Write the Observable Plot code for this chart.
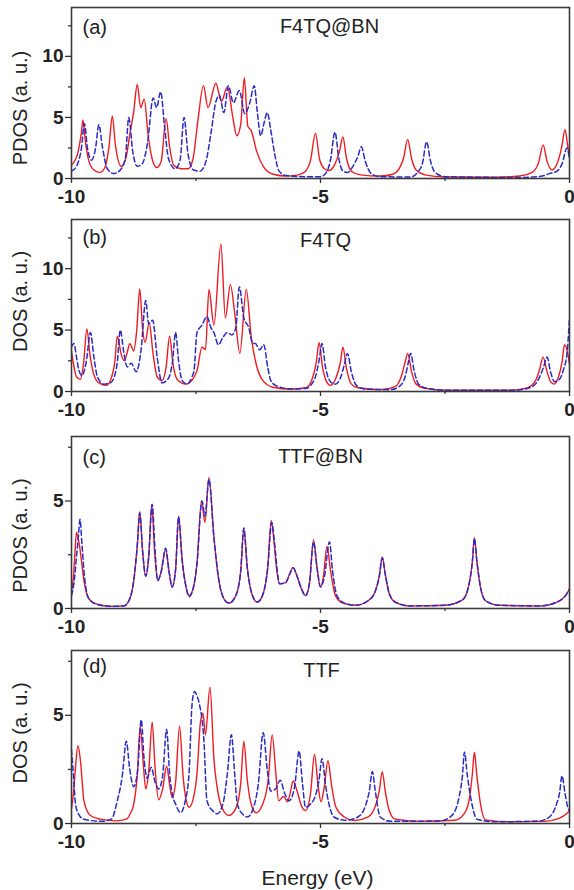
<!DOCTYPE html>
<html>
<head>
<meta charset="utf-8">
<script src="https://cdn.jsdelivr.net/npm/d3@7"></script>
<script src="https://cdn.jsdelivr.net/npm/@observablehq/plot@0.6"></script>
<style>
  body { margin: 0; background: #fff; }
  #chart { width: 574px; }
  #chart svg { display: block; }
</style>
</head>
<body>
<div id="chart"></div>
<script>
// ---- Data: [energy (eV), density of states] ----
const aRed = [[-10,1.1],[-9.88,2.0],[-9.8,3.8],[-9.77,4.8],[-9.72,3.0],[-9.65,1.4],[-9.55,0.7],[-9.43,0.5],[-9.33,0.9],[-9.25,2.5],[-9.18,5.1],[-9.12,2.8],[-9.0,1.0],[-8.9,1.8],[-8.83,3.6],[-8.75,5.5],[-8.68,7.7],[-8.61,5.8],[-8.54,6.5],[-8.46,3.5],[-8.38,1.6],[-8.29,0.9],[-8.2,1.4],[-8.1,4.9],[-8.03,2.6],[-7.95,1.1],[-7.8,0.8],[-7.66,0.8],[-7.56,1.6],[-7.46,4.8],[-7.35,7.6],[-7.26,5.8],[-7.1,7.8],[-6.99,6.3],[-6.87,7.5],[-6.76,5.0],[-6.68,3.5],[-6.6,4.5],[-6.53,8.25],[-6.46,4.3],[-6.39,3.9],[-6.28,2.2],[-6.15,1.0],[-5.95,0.35],[-5.7,0.2],[-5.45,0.3],[-5.3,0.6],[-5.2,1.5],[-5.1,3.7],[-5.02,1.6],[-4.92,0.8],[-4.83,0.65],[-4.72,1.1],[-4.62,2.2],[-4.55,3.4],[-4.48,1.7],[-4.38,0.6],[-4.2,0.3],[-3.8,0.2],[-3.55,0.35],[-3.42,0.8],[-3.33,1.7],[-3.25,3.2],[-3.17,1.6],[-3.08,0.7],[-2.9,0.3],[-2.5,0.12],[-1.5,0.1],[-1.0,0.2],[-0.75,0.5],[-0.62,1.3],[-0.53,2.75],[-0.45,1.4],[-0.35,0.7],[-0.25,1.2],[-0.16,2.5],[-0.09,4.0],[-0.04,2.8],[0,1.7]];
const aBlue = [[-10,0.6],[-9.9,1.0],[-9.8,2.5],[-9.74,4.5],[-9.68,2.5],[-9.6,1.5],[-9.52,2.4],[-9.45,4.4],[-9.38,2.6],[-9.28,0.8],[-9.15,0.4],[-9.02,0.7],[-8.92,1.6],[-8.85,5.0],[-8.77,2.2],[-8.68,1.0],[-8.58,1.2],[-8.47,3.0],[-8.36,6.6],[-8.29,5.8],[-8.21,7.1],[-8.13,4.2],[-8.05,1.6],[-7.92,0.8],[-7.82,1.5],[-7.74,5.0],[-7.66,2.0],[-7.55,0.7],[-7.42,0.6],[-7.3,1.4],[-7.2,3.7],[-7.1,6.3],[-7.03,6.8],[-6.94,5.4],[-6.85,7.6],[-6.75,6.2],[-6.63,7.2],[-6.52,5.3],[-6.42,6.2],[-6.33,7.6],[-6.27,5.5],[-6.2,3.5],[-6.13,4.6],[-6.07,5.4],[-6.0,4.0],[-5.92,2.0],[-5.83,0.6],[-5.7,0.25],[-5.3,0.15],[-5.0,0.15],[-4.9,0.4],[-4.8,1.5],[-4.71,3.8],[-4.63,1.6],[-4.55,0.6],[-4.45,0.5],[-4.35,1.0],[-4.25,1.8],[-4.18,2.6],[-4.1,1.4],[-3.98,0.4],[-3.8,0.15],[-3.2,0.12],[-3.05,0.5],[-2.95,1.3],[-2.87,3.0],[-2.79,1.4],[-2.7,0.5],[-2.5,0.15],[-1.0,0.08],[-0.55,0.2],[-0.4,0.4],[-0.25,0.6],[-0.15,1.2],[-0.05,2.5],[0,1.6]];

const bRed = [[-10,3.3],[-9.95,2.0],[-9.9,1.2],[-9.82,1.0],[-9.76,2.2],[-9.69,5.1],[-9.63,3.0],[-9.56,1.5],[-9.45,0.7],[-9.3,0.5],[-9.2,1.1],[-9.13,2.4],[-9.08,4.5],[-9.0,3.0],[-8.94,2.5],[-8.88,3.2],[-8.83,3.9],[-8.75,3.3],[-8.69,5.0],[-8.63,8.35],[-8.57,5.0],[-8.52,4.0],[-8.44,5.6],[-8.36,3.0],[-8.28,1.2],[-8.18,0.9],[-8.1,2.0],[-8.03,4.5],[-7.96,2.2],[-7.88,1.0],[-7.7,0.6],[-7.55,1.1],[-7.48,1.7],[-7.38,3.6],[-7.31,3.4],[-7.24,8.3],[-7.14,5.4],[-7.0,12.0],[-6.91,6.0],[-6.81,8.7],[-6.72,6.3],[-6.62,3.1],[-6.49,8.3],[-6.39,4.4],[-6.29,2.2],[-6.16,0.9],[-5.96,0.35],[-5.6,0.2],[-5.3,0.3],[-5.17,1.0],[-5.08,2.5],[-5.03,4.0],[-4.96,2.0],[-4.88,0.8],[-4.8,0.5],[-4.7,1.0],[-4.6,2.4],[-4.55,3.6],[-4.48,1.9],[-4.38,0.6],[-4.25,0.3],[-3.8,0.15],[-3.5,0.4],[-3.38,1.2],[-3.3,2.4],[-3.25,3.1],[-3.17,1.6],[-3.08,0.6],[-2.9,0.25],[-2.5,0.1],[-1.2,0.1],[-0.85,0.3],[-0.68,0.9],[-0.6,1.8],[-0.53,2.8],[-0.45,1.6],[-0.38,0.8],[-0.31,0.6],[-0.22,1.2],[-0.15,2.4],[-0.1,3.8],[-0.04,3.2],[0,2.2]];
const bBlue = [[-10,3.6],[-9.95,3.9],[-9.9,2.8],[-9.85,1.7],[-9.79,1.3],[-9.7,2.5],[-9.62,4.8],[-9.55,2.8],[-9.48,1.2],[-9.35,0.6],[-9.22,0.7],[-9.15,1.1],[-9.08,2.4],[-9.02,5.0],[-8.95,3.2],[-8.88,2.0],[-8.8,2.3],[-8.7,1.6],[-8.6,3.5],[-8.51,7.4],[-8.45,5.5],[-8.37,5.8],[-8.28,2.8],[-8.18,0.7],[-8.05,1.1],[-7.97,2.5],[-7.91,4.8],[-7.85,2.5],[-7.78,0.9],[-7.68,0.6],[-7.58,1.2],[-7.54,1.7],[-7.48,4.8],[-7.38,5.4],[-7.28,6.1],[-7.2,5.2],[-7.14,4.8],[-7.05,3.8],[-6.96,4.4],[-6.87,4.8],[-6.78,4.6],[-6.7,5.2],[-6.63,8.5],[-6.54,6.0],[-6.44,5.2],[-6.36,3.9],[-6.31,3.9],[-6.22,3.4],[-6.14,3.8],[-6.06,2.0],[-6.0,0.9],[-5.9,0.5],[-5.6,0.2],[-5.3,0.25],[-5.12,1.0],[-5.03,2.5],[-4.97,3.9],[-4.9,2.0],[-4.8,0.8],[-4.7,0.6],[-4.6,1.1],[-4.52,2.2],[-4.46,3.1],[-4.38,1.6],[-4.28,0.5],[-4.1,0.2],[-3.6,0.15],[-3.42,0.4],[-3.3,1.2],[-3.24,2.3],[-3.19,3.1],[-3.12,1.7],[-3.03,0.6],[-2.85,0.25],[-2.4,0.1],[-1.1,0.1],[-0.8,0.3],[-0.62,1.0],[-0.52,2.0],[-0.45,2.8],[-0.38,1.6],[-0.3,0.8],[-0.2,1.0],[-0.12,1.8],[-0.05,3.1],[0,6.0]];

const cRed = [[-10,0.8],[-9.96,1.5],[-9.93,2.6],[-9.9,3.55],[-9.86,3.2],[-9.82,2.6],[-9.75,1.3],[-9.65,0.45],[-9.48,0.2],[-9.2,0.1],[-8.95,0.12],[-8.85,0.35],[-8.75,1.3],[-8.68,2.9],[-8.63,4.5],[-8.57,2.6],[-8.51,1.5],[-8.45,2.4],[-8.39,4.8],[-8.33,2.6],[-8.27,1.3],[-8.2,1.7],[-8.11,2.75],[-8.04,1.7],[-7.98,1.0],[-7.91,1.8],[-7.85,4.3],[-7.78,2.3],[-7.7,1.0],[-7.64,0.6],[-7.55,1.0],[-7.48,2.1],[-7.39,5.0],[-7.32,4.0],[-7.24,6.1],[-7.14,3.3],[-7.04,1.3],[-6.95,0.5],[-6.84,0.25],[-6.7,0.6],[-6.6,1.8],[-6.54,3.7],[-6.47,1.9],[-6.38,0.7],[-6.27,0.3],[-6.15,0.7],[-6.06,1.9],[-5.99,4.1],[-5.93,3.0],[-5.88,1.8],[-5.82,1.15],[-5.7,1.2],[-5.62,1.6],[-5.55,1.9],[-5.47,1.5],[-5.38,0.9],[-5.3,0.6],[-5.22,1.2],[-5.14,3.2],[-5.07,1.9],[-5.0,1.0],[-4.94,1.5],[-4.87,2.9],[-4.8,1.8],[-4.7,0.6],[-4.55,0.25],[-4.3,0.15],[-4.05,0.35],[-3.9,0.8],[-3.82,1.5],[-3.76,2.4],[-3.7,1.6],[-3.62,0.7],[-3.5,0.3],[-3.2,0.12],[-2.5,0.15],[-2.15,0.4],[-2.02,1.1],[-1.95,2.2],[-1.91,3.3],[-1.86,2.2],[-1.78,0.9],[-1.68,0.35],[-1.4,0.15],[-0.6,0.12],[-0.25,0.3],[-0.08,0.6],[0,0.9]];
const cBlue = [[-10,0.6],[-9.95,1.2],[-9.9,2.4],[-9.86,3.4],[-9.83,4.15],[-9.79,3.0],[-9.74,1.5],[-9.65,0.45],[-9.48,0.18],[-9.2,0.1],[-8.95,0.12],[-8.85,0.35],[-8.75,1.3],[-8.68,2.9],[-8.63,4.45],[-8.57,2.6],[-8.51,1.5],[-8.45,2.4],[-8.38,4.85],[-8.32,2.6],[-8.27,1.3],[-8.2,1.7],[-8.11,2.8],[-8.04,1.7],[-7.98,1.0],[-7.91,1.8],[-7.85,4.25],[-7.78,2.3],[-7.7,1.0],[-7.64,0.55],[-7.55,1.0],[-7.48,2.1],[-7.38,5.0],[-7.32,4.3],[-7.24,6.0],[-7.14,3.3],[-7.04,1.3],[-6.95,0.5],[-6.84,0.25],[-6.7,0.6],[-6.6,1.8],[-6.54,3.75],[-6.47,1.9],[-6.38,0.7],[-6.27,0.3],[-6.15,0.7],[-6.06,1.9],[-5.98,4.0],[-5.92,3.0],[-5.87,1.8],[-5.82,1.15],[-5.7,1.2],[-5.62,1.6],[-5.55,1.9],[-5.47,1.5],[-5.38,0.9],[-5.3,0.6],[-5.22,1.2],[-5.14,3.1],[-5.07,1.9],[-5.0,1.0],[-4.92,1.5],[-4.82,3.1],[-4.76,1.8],[-4.67,0.6],[-4.52,0.25],[-4.3,0.15],[-4.05,0.35],[-3.9,0.8],[-3.82,1.5],[-3.76,2.35],[-3.7,1.6],[-3.62,0.7],[-3.5,0.3],[-3.2,0.12],[-2.5,0.15],[-2.15,0.4],[-2.02,1.1],[-1.95,2.2],[-1.91,3.25],[-1.86,2.2],[-1.78,0.9],[-1.68,0.35],[-1.4,0.15],[-0.6,0.12],[-0.25,0.3],[-0.08,0.6],[0,0.9]];

const dRed = [[-10,0.7],[-9.96,1.4],[-9.92,2.6],[-9.87,3.6],[-9.82,2.9],[-9.75,1.05],[-9.62,0.37],[-9.42,0.2],[-9.1,0.12],[-8.9,0.2],[-8.82,0.45],[-8.75,0.9],[-8.68,2.2],[-8.62,4.5],[-8.56,2.8],[-8.51,1.6],[-8.45,2.4],[-8.38,4.7],[-8.32,2.5],[-8.25,1.1],[-8.17,1.6],[-8.09,2.65],[-8.03,1.8],[-7.98,1.2],[-7.91,1.9],[-7.83,4.5],[-7.76,2.2],[-7.7,1.1],[-7.64,0.75],[-7.55,1.2],[-7.48,2.3],[-7.41,4.7],[-7.36,5.1],[-7.31,4.1],[-7.22,6.3],[-7.14,3.0],[-7.04,1.2],[-6.95,0.6],[-6.84,0.37],[-6.7,0.7],[-6.6,1.9],[-6.54,3.8],[-6.47,2.0],[-6.38,0.8],[-6.29,0.5],[-6.16,0.9],[-6.05,2.0],[-5.97,4.1],[-5.9,2.4],[-5.84,1.05],[-5.74,1.25],[-5.66,1.0],[-5.6,1.5],[-5.55,1.97],[-5.47,1.5],[-5.38,0.8],[-5.3,0.6],[-5.2,1.4],[-5.12,3.2],[-5.05,1.8],[-4.99,1.0],[-4.93,1.6],[-4.85,2.9],[-4.78,1.8],[-4.69,0.75],[-4.52,0.3],[-4.32,0.14],[-4.05,0.3],[-3.9,0.8],[-3.82,1.5],[-3.76,2.4],[-3.7,1.5],[-3.62,0.6],[-3.5,0.2],[-3.0,0.1],[-2.3,0.15],[-2.1,0.5],[-2.0,1.3],[-1.95,2.3],[-1.91,3.3],[-1.86,2.2],[-1.78,0.8],[-1.69,0.17],[-1.2,0.08],[-0.5,0.1],[-0.2,0.25],[-0.06,0.45],[0,0.6]];
const dBlue = [[-10,3.4],[-9.96,2.2],[-9.92,0.9],[-9.85,0.4],[-9.75,0.2],[-9.4,0.1],[-9.2,0.2],[-9.08,1.05],[-8.98,2.2],[-8.9,3.8],[-8.83,2.5],[-8.75,1.7],[-8.67,2.5],[-8.6,4.8],[-8.54,2.9],[-8.48,2.1],[-8.4,2.6],[-8.32,1.9],[-8.25,1.6],[-8.17,2.2],[-8.09,4.35],[-8.03,2.3],[-7.97,1.3],[-7.91,0.9],[-7.81,0.5],[-7.72,1.0],[-7.64,2.3],[-7.58,5.5],[-7.53,6.1],[-7.48,5.9],[-7.44,5.6],[-7.34,3.8],[-7.28,1.05],[-7.17,0.6],[-7.07,0.45],[-6.95,1.0],[-6.87,2.3],[-6.79,4.1],[-6.72,2.2],[-6.67,0.9],[-6.55,0.4],[-6.47,0.3],[-6.35,0.7],[-6.25,1.8],[-6.15,4.2],[-6.07,2.5],[-6.0,1.5],[-5.9,1.6],[-5.81,2.0],[-5.72,1.4],[-5.63,1.05],[-5.52,1.7],[-5.43,3.35],[-5.36,1.8],[-5.3,0.75],[-5.2,0.9],[-5.1,1.3],[-5.03,2.0],[-4.97,3.0],[-4.9,1.8],[-4.83,0.9],[-4.73,0.3],[-4.5,0.15],[-4.25,0.3],[-4.1,0.8],[-4.02,1.5],[-3.96,2.4],[-3.9,1.5],[-3.8,0.3],[-3.6,0.1],[-2.6,0.12],[-2.35,0.4],[-2.22,1.2],[-2.15,2.2],[-2.11,3.3],[-2.05,2.2],[-1.95,0.8],[-1.86,0.2],[-1.5,0.08],[-0.6,0.12],[-0.38,0.35],[-0.26,0.9],[-0.2,1.4],[-0.15,2.2],[-0.09,1.4],[-0.04,0.8],[0,0.6]];

const panelTags = ["(a)", "(b)", "(c)", "(d)"];
const panelNames = ["F4TQ@BN", "F4TQ", "TTF@BN", "TTF"];
const yLabels = ["PDOS (a. u.)", "DOS (a. u.)", "PDOS (a. u.)", "DOS (a. u.)"];
const yMax = [14, 14, 8, 8];
const yMajor = [[0, 5, 10], [0, 5, 10], [0, 5], [0, 5]];
const yMinor = [[2.5, 7.5, 12.5], [2.5, 7.5, 12.5], [2.5, 7.5], [2.5, 7.5]];
const xMajor = [-10, -5, 0];
const xMinor = [-7.5, -2.5];
const xLabel = "Energy (eV)";
const redSeries = [aRed, bRed, cRed, dRed];
const blueSeries = [aBlue, bBlue, cBlue, dBlue];

// ---- Layout ----
const layout = [
  {height: 212, mb: 34, tagDy: 20, nameDx: 258, nameDy: 19, ylDy: 15},
  {height: 217, mb: 38, tagDy: 18, nameDx: 254, nameDy: 21, ylDy: -4},
  {height: 214, mb: 35, tagDy: 21, nameDx: 249, nameDy: 20, ylDy: 13},
  {height: 247, mb: 67, tagDy: 16, nameDx: 250, nameDy: 20, ylDy: -4}
];

const FONT = "'Liberation Sans', Arial, Helvetica, sans-serif";
const RED = "#ec1c24";
const BLUE = "#2a2ac4";

const chart = document.getElementById("chart");
for (let i = 0; i < 4; i++) {
  const L = layout[i];
  const marks = [
    Plot.line(redSeries[i], {x: d => d[0], y: d => d[1], stroke: RED, strokeWidth: 1.4, curve: "monotone-x"}),
    Plot.line(blueSeries[i], {x: d => d[0], y: d => d[1], stroke: BLUE, strokeWidth: 1.5, strokeDasharray: "5,3", curve: "monotone-x"}),
    Plot.axisY(yMajor[i], {tickSize: 6, tickPadding: 2, fontSize: 19, fontWeight: "bold", label: null, tickFormat: d => String(d), stroke: "#333", strokeWidth: 1.3}),
    Plot.axisY(yMinor[i], {tickSize: 3, label: null, tickFormat: () => "", stroke: "#333", strokeWidth: 1.3}),
    Plot.axisX(xMajor, {tickSize: 5, tickPadding: 6, fontSize: 19, fontWeight: "bold", label: null, tickFormat: d => String(d), stroke: "#333", strokeWidth: 1.3}),
    Plot.axisX(xMinor, {tickSize: 3, label: null, tickFormat: () => "", stroke: "#333", strokeWidth: 1.3}),
    Plot.frame({stroke: "#3a3a3a", strokeWidth: 1.6}),
    Plot.text([panelTags[i]], {text: d => d, frameAnchor: "top-left", textAnchor: "start", lineAnchor: "middle", dx: 11, dy: L.tagDy, fontSize: 20, fill: "#222"}),
    Plot.text([panelNames[i]], {text: d => d, frameAnchor: "top-left", textAnchor: "middle", lineAnchor: "middle", dx: L.nameDx, dy: L.nameDy, fontSize: 20, fill: "#222"}),
    Plot.text([yLabels[i]], {text: d => d, frameAnchor: "left", rotate: -90, textAnchor: "middle", lineAnchor: "middle", dx: -51, dy: L.ylDy, fontSize: 20, fill: "#222"})
  ];
  if (i === 3) {
    marks.push(Plot.text([xLabel], {text: d => d, frameAnchor: "bottom", textAnchor: "middle", lineAnchor: "middle", dx: -3, dy: 55, fontSize: 21, fill: "#222"}));
  }
  const svg = Plot.plot({
    width: 574,
    height: L.height,
    marginLeft: 71,
    marginRight: 5,
    marginTop: 7,
    marginBottom: L.mb,
    x: {domain: [-10, 0]},
    y: {domain: [0, yMax[i]]},
    style: {fontFamily: FONT, background: "white", color: "#222", overflow: "visible"},
    marks
  });
  chart.appendChild(svg);
}
</script>
</body>
</html>
